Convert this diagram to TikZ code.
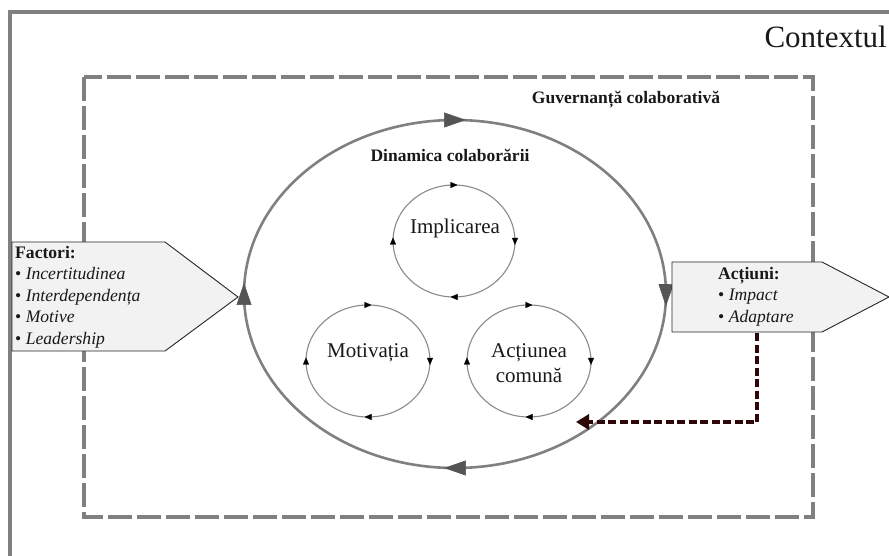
\documentclass[tikz,border=0pt]{standalone}
\usepackage{fontspec}
\setmainfont{Liberation Serif}
\usetikzlibrary{arrows.meta,decorations.markings}
\definecolor{framegray}{HTML}{808080}
\definecolor{circgray}{HTML}{8A8A8A}
\definecolor{boxfill}{HTML}{F2F2F2}
\definecolor{bigtip}{HTML}{555555}
\definecolor{maroondark}{HTML}{2E0808}
\tikzset{
  bigtipstyle/.style={xshift=11pt},
  bigcycle/.style={framegray, line width=2.6pt, postaction={decorate},
    decoration={markings,
      mark=at position 0.001 with {\arrow[bigtipstyle]{Triangle[length=22pt,width=15pt,color=bigtip,line width=0.6pt]}},
      mark=at position 0.25 with {\arrow[bigtipstyle]{Triangle[length=22pt,width=15pt,color=bigtip,line width=0.6pt]}},
      mark=at position 0.5 with {\arrow[bigtipstyle]{Triangle[length=22pt,width=15pt,color=bigtip,line width=0.6pt]}},
      mark=at position 0.75 with {\arrow[bigtipstyle]{Triangle[length=22pt,width=15pt,color=bigtip,line width=0.6pt]}}}},
  smalltipstyle/.style={xshift=3.5pt},
  smallcycle/.style={circgray, line width=1.1pt, postaction={decorate},
    decoration={markings,
      mark=at position 0.001 with {\arrow[smalltipstyle]{Triangle[length=7pt,width=6pt,color=black,line width=0.3pt]}},
      mark=at position 0.25 with {\arrow[smalltipstyle]{Triangle[length=7pt,width=6pt,color=black,line width=0.3pt]}},
      mark=at position 0.5 with {\arrow[smalltipstyle]{Triangle[length=7pt,width=6pt,color=black,line width=0.3pt]}},
      mark=at position 0.75 with {\arrow[smalltipstyle]{Triangle[length=7pt,width=6pt,color=black,line width=0.3pt]}}}},
  pentabox/.style={fill=boxfill, draw=black!85, line width=0.9pt},
  cycletext/.style={font=\fontsize{21}{25}\selectfont, text=black!90, align=center, inner sep=0pt},
  headtext/.style={font=\fontsize{17.5}{21}\selectfont\bfseries, text=black!90, inner sep=0pt},
  listtext/.style={font=\fontsize{17.6}{21.5}\selectfont, text=black!90, align=left, inner sep=0pt, anchor=north west},
}
\begin{document}
\begin{tikzpicture}[x=1pt,y=-1pt]
\useasboundingbox (0,0) rectangle (889,556);
\fill[white] (0,0) rectangle (889,556);
\begin{scope}
\clip (0,0) rectangle (889,556);
% outer context frame
\draw[framegray, line width=4.5pt] (10,12) rectangle (910,580);
\end{scope}
\node[anchor=east, inner sep=0pt, font=\fontsize{31}{35}\selectfont, text=black!90] (ctx) at (887,37) {Contextul};
% governance dashed frame
\draw[framegray, line width=4pt, dash pattern=on 24pt off 5pt] (84,77) rectangle (813,517);
\node[headtext] (gov) at (626,100) {Guvernanță colaborativă};
% collaboration dynamics
\draw[bigcycle] (455,294) ellipse [x radius=211, y radius=174];
\node[headtext] (dyn) at (450,155) {Dinamica colaborării};
% three internal cycles
\draw[smallcycle] (454,241) ellipse [x radius=61, y radius=56];
\node[cycletext] (impl) at (455,228) {Implicarea};
\draw[smallcycle] (368,361) ellipse [x radius=62, y radius=56];
\node[cycletext] (motiv) at (368,353) {Motivația};
\draw[smallcycle] (529,361) ellipse [x radius=62, y radius=56];
\node[cycletext] (actc) at (529,363) {Acțiunea\\comună};
% factors box
\draw[pentabox] (12,242) -- (165,242) -- (238,297) -- (165,351) -- (12,351) -- cycle;
\node[listtext] (fact) at (15,246) {\textbf{Factori:}\\
• \textit{Incertitudinea}\\
• \textit{Interdependența}\\
• \textit{Motive}\\
• \textit{Leadership}};
% actions box
\draw[pentabox] (672,262) -- (822,262) -- (889,297) -- (822,332) -- (672,332) -- cycle;
\node[listtext] (act) at (718,267) {\textbf{Acțiuni:}\\
• \textit{Impact}\\
• \textit{Adaptare}};
% feedback
\coordinate (actbot) at (757,333);
\coordinate (fbtarget) at (576,422);
\draw[maroondark, line width=3.5pt, dash pattern=on 8pt off 3.5pt, -{Triangle[length=13pt,width=15pt]}] (actbot) |- (fbtarget);
\end{tikzpicture}
\end{document}
